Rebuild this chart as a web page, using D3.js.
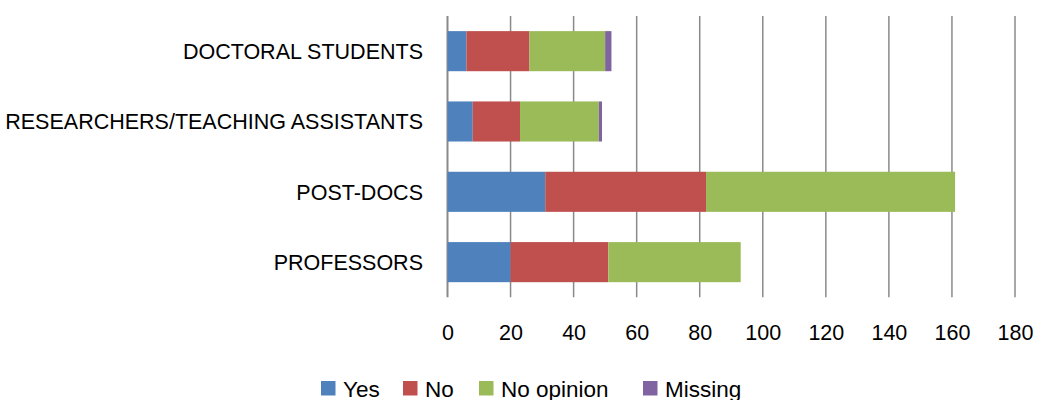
<!DOCTYPE html>
<html>
<head>
<meta charset="utf-8">
<script src="https://cdn.jsdelivr.net/npm/d3@7"></script>
<style>
  html, body { margin: 0; padding: 0; background: #fff; }
  svg { display: block; }
  text { font-family: "Liberation Sans", Arial, sans-serif; fill: #000; }
</style>
</head>
<body>
<svg id="chart" width="1038" height="400"></svg>
<script>
const categories = ["DOCTORAL STUDENTS", "RESEARCHERS/TEACHING ASSISTANTS", "POST-DOCS", "PROFESSORS"];
const seriesNames = ["Yes", "No", "No opinion", "Missing"];
const yesValues = [6, 8, 31, 20];
const noValues = [20, 15, 51, 31];
const noOpinionValues = [24, 25, 79, 42];
const missingValues = [2, 1, 0, 0];
const tickValues = [0, 20, 40, 60, 80, 100, 120, 140, 160, 180];
const colors = ["#4F81BD", "#C0504D", "#9BBB59", "#8064A2"];

const seriesValues = [yesValues, noValues, noOpinionValues, missingValues];
const rows = categories.map((c, i) => {
  const r = { category: c };
  seriesNames.forEach((s, j) => { r[s] = seriesValues[j][i]; });
  return r;
});

const svg = d3.select("#chart");
const x = d3.scaleLinear().domain([0, 180]).range([447.5, 1015]);
const y = d3.scaleBand().domain(categories).range([16, 297.3]).paddingInner(0.43).paddingOuter(0.215);

// gridlines
svg.append("g").selectAll("line").data(tickValues).join("line")
  .attr("x1", d => x(d)).attr("x2", d => x(d))
  .attr("y1", 16).attr("y2", 297.3)
  .attr("stroke", "#8a8a8a").attr("stroke-width", d => d === 0 ? 2 : 1.5);

// bars
const stack = d3.stack().keys(seriesNames)(rows);
svg.append("g").selectAll("g").data(stack).join("g")
  .attr("fill", (d, i) => colors[i])
  .selectAll("rect").data(d => d).join("rect")
  .attr("x", d => x(d[0]))
  .attr("width", d => x(d[1]) - x(d[0]))
  .attr("y", d => y(d.data.category))
  .attr("height", y.bandwidth());

// x tick labels
const xAxis = d3.axisBottom(x).tickValues(tickValues).tickSize(0).tickPadding(0);
const gx = svg.append("g").attr("transform", "translate(0,325)").call(xAxis);
gx.select(".domain").remove();
gx.selectAll("text").attr("font-size", 21.5).attr("font-family", "'Liberation Sans', Arial, sans-serif")
  .attr("fill", "#000").attr("dy", "0.71em").attr("y", 0);

// y category labels
const yAxis = d3.axisLeft(y).tickSize(0).tickPadding(0);
const gy = svg.append("g").attr("transform", "translate(423,0)").call(yAxis);
gy.select(".domain").remove();
gy.selectAll("text").attr("font-size", 21.5).attr("font-family", "'Liberation Sans', Arial, sans-serif")
  .attr("fill", "#000").attr("dy", "0.36em");

// legend
const legendX = [321, 403, 479, 643];
const lg = svg.append("g").selectAll("g").data(seriesNames).join("g")
  .attr("transform", (d, i) => `translate(${legendX[i]},381)`);
lg.append("rect").attr("width", 14.5).attr("height", 14.5).attr("fill", (d, i) => colors[i]);
lg.append("text").attr("x", 22).attr("y", 15.5).attr("font-size", 22.5).text(d => d);
</script>
</body>
</html>
